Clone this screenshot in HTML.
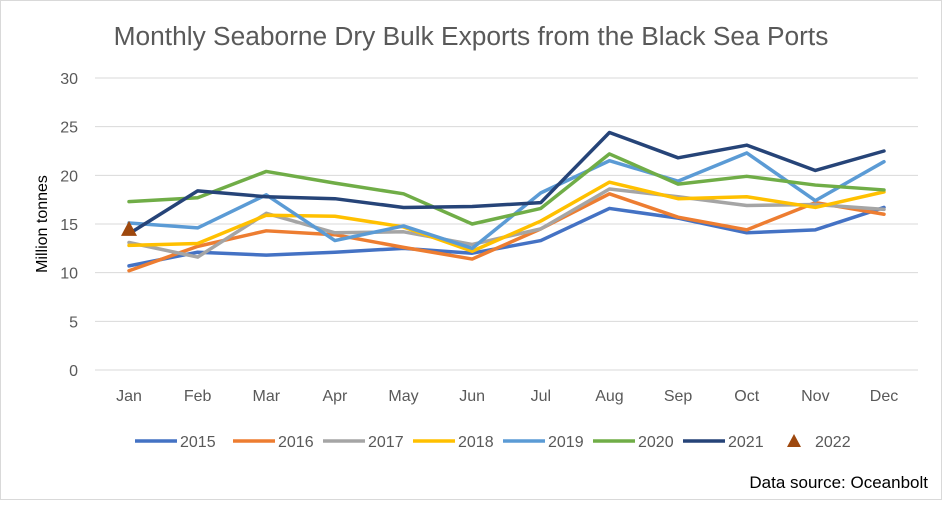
<!DOCTYPE html>
<html><head><meta charset="utf-8"><style>
body{margin:0;background:#fff;font-family:"Liberation Sans",sans-serif}
#wrap{position:relative;width:942px;height:500px}
svg text{font-family:"Liberation Sans",sans-serif}
</style></head><body>
<div id="wrap">
<svg id="c" width="942" height="500">
<rect x="0.5" y="0.5" width="941" height="499" fill="#fff" stroke="#d9d9d9"/>
<text x="471" y="45" text-anchor="middle" font-size="26.3" fill="#595959">Monthly Seaborne Dry Bulk Exports from the Black Sea Ports</text>
<text transform="translate(47,224) rotate(-90)" text-anchor="middle" font-size="16" fill="#000">Million tonnes</text>
<text x="928" y="488" text-anchor="end" font-size="17" fill="#000">Data source: Oceanbolt</text>
<g id="grid"></g><g id="lines"></g><g id="legend"></g>
</svg></div>
<script>
const categories=["Jan","Feb","Mar","Apr","May","Jun","Jul","Aug","Sep","Oct","Nov","Dec"];
const yTicks=[0,5,10,15,20,25,30];
const seriesNames=["2015","2016","2017","2018","2019","2020","2021"];
const s2015=[10.7,12.1,11.8,12.1,12.5,12.0,13.3,16.6,15.6,14.1,14.4,16.7];
const s2016=[10.2,12.7,14.3,13.9,12.6,11.4,14.5,18.1,15.7,14.4,17.2,16.0];
const s2017=[13.1,11.6,16.1,14.1,14.2,12.9,14.5,18.6,17.8,16.9,17.0,16.5];
const s2018=[12.8,13.0,15.9,15.8,14.7,12.2,15.3,19.3,17.6,17.8,16.7,18.3];
const s2019=[15.1,14.6,18.0,13.3,14.8,12.5,18.2,21.5,19.4,22.3,17.4,21.4];
const s2020=[17.3,17.7,20.4,19.2,18.1,15.0,16.6,22.2,19.1,19.9,19.0,18.5];
const s2021=[14.0,18.4,17.8,17.6,16.7,16.8,17.2,24.4,21.8,23.1,20.5,22.5];
const s2022=[14.5];
const colors=["#4472c4","#ed7d31","#a5a5a5","#ffc000","#5b9bd5","#70ad47","#264478"];
const allSeries=[s2015,s2016,s2017,s2018,s2019,s2020,s2021];
const NS="http://www.w3.org/2000/svg";
const x=i=>129+i*(884-129)/11;
const y=v=>370-v*(370-78)/30;
function mk(t,a,p){const e=document.createElementNS(NS,t);for(const k in a)e.setAttribute(k,a[k]);p.appendChild(e);return e;}
const grid=document.getElementById('grid');
yTicks.forEach(t=>{
 const l=mk('line',{x1:95,x2:918,y1:y(t),y2:y(t),stroke:'#d9d9d9','stroke-width':1},grid);
 
 
 const tx=mk('text',{x:78,y:y(t)+6,'text-anchor':'end','font-size':16,fill:'#595959'},grid);
 tx.textContent=t;
 
 
});
categories.forEach((c,i)=>{
 const tx=mk('text',{x:x(i),y:401,'text-anchor':'middle','font-size':16,fill:'#595959'},grid);
 tx.textContent=c;
 
 
});
const lg=document.getElementById('lines');
allSeries.forEach((s,k)=>{
 const p=mk('polyline',{points:s.map((v,i)=>x(i)+','+y(v)).join(' '),fill:'none',stroke:colors[k],'stroke-width':3.5,'stroke-linejoin':'round','stroke-linecap':'round'},lg);
 
 
});
s2022.forEach((v,i)=>{
 const cx=x(i),cy=y(v);
 const t=mk('polygon',{points:`${cx},${cy-8} ${cx-8},${cy+7} ${cx+8},${cy+7}`,fill:'#9e480e'},lg);
 
 
});
const leg=document.getElementById('legend');
const lx=[135,233,323,413,503,593,683];
seriesNames.forEach((n,k)=>{
 const l=mk('line',{x1:lx[k],x2:lx[k]+42,y1:441,y2:441,stroke:colors[k],'stroke-width':3.5},leg);
 
 
 const t=mk('text',{x:lx[k]+45,y:447,'font-size':16,fill:'#595959'},leg);
 t.textContent=n;
 
 
});
const tri=mk('polygon',{points:'794,434 787,447 801,447',fill:'#9e480e'},leg);


const t22=mk('text',{x:815,y:447,'font-size':16,fill:'#595959'},leg);
t22.textContent='2022';


</script>
</body></html>
